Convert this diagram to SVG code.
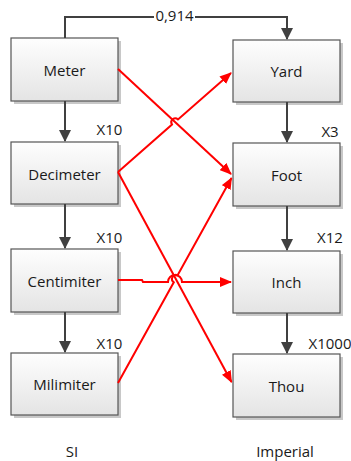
<svg xmlns="http://www.w3.org/2000/svg" width="351" height="461" viewBox="0 0 351 461">
  <style>
    .box { fill: url(#boxFill); stroke: #555555; stroke-width: 1.2; }
    .shadow { fill: #c8c8c8; }
    .label { font-family: "Open Sans", "Noto Sans", sans-serif; font-size: 15px; fill: #1a1a1a; text-anchor: middle; }
    .gray { fill: none; stroke: #404040; stroke-width: 2; }
    .red { fill: none; stroke: #ff0000; stroke-width: 2; }
  </style>
  <defs>
    <linearGradient id="boxFill" x1="0" y1="0" x2="0" y2="1">
      <stop offset="0" stop-color="#fefefe"/>
      <stop offset="1" stop-color="#e4e4e4"/>
    </linearGradient>
    <marker id="arrowGray" viewBox="0 0 12 12" refX="11" refY="6" markerWidth="12" markerHeight="12" markerUnits="userSpaceOnUse" orient="auto">
      <path d="M0,0 L12,6 L0,12 z" fill="#404040"/>
    </marker>
    <marker id="arrowRed" viewBox="0 0 12 10" refX="11" refY="5" markerWidth="12" markerHeight="10" markerUnits="userSpaceOnUse" orient="auto">
      <path d="M0,0 L12,5 L0,10 z" fill="#ff0000"/>
    </marker>
  </defs>

  <rect width="351" height="461" fill="#ffffff"/>

  <!-- SI units -->
  <g id="meter">
    <rect class="shadow" x="14" y="41" width="107" height="63"/>
    <rect class="box" x="11" y="38" width="107" height="63"/>
    <text class="label" x="64.5" y="76">Meter</text>
  </g>
  <g id="decimeter">
    <rect class="shadow" x="14" y="145" width="107" height="62"/>
    <rect class="box" x="11" y="142" width="107" height="62"/>
    <text class="label" x="64.5" y="180">Decimeter</text>
  </g>
  <g id="centimiter">
    <rect class="shadow" x="14" y="252" width="107" height="63"/>
    <rect class="box" x="11" y="249" width="107" height="63"/>
    <text class="label" x="64.5" y="287">Centimiter</text>
  </g>
  <g id="milimiter">
    <rect class="shadow" x="14" y="356" width="107" height="62"/>
    <rect class="box" x="11" y="353" width="107" height="62"/>
    <text class="label" x="64.5" y="390">Milimiter</text>
  </g>

  <!-- Imperial units -->
  <g id="yard">
    <rect class="shadow" x="236" y="43" width="107" height="62"/>
    <rect class="box" x="233" y="40" width="107" height="62"/>
    <text class="label" x="286.5" y="77">Yard</text>
  </g>
  <g id="foot">
    <rect class="shadow" x="236" y="146" width="107" height="63"/>
    <rect class="box" x="233" y="143" width="107" height="63"/>
    <text class="label" x="286.5" y="181">Foot</text>
  </g>
  <g id="inch">
    <rect class="shadow" x="236" y="254" width="107" height="62"/>
    <rect class="box" x="233" y="251" width="107" height="62"/>
    <text class="label" x="286.5" y="288">Inch</text>
  </g>
  <g id="thou">
    <rect class="shadow" x="236" y="357" width="107" height="63"/>
    <rect class="box" x="233" y="354" width="107" height="63"/>
    <text class="label" x="286.5" y="392">Thou</text>
  </g>

  <!-- Connectors -->
  <g id="connectors">
    <!-- Meter to Yard -->
    <path class="gray" d="M65,38 V17 H287 V39" marker-end="url(#arrowGray)"/>
    <rect x="154" y="9" width="41" height="16" fill="#ffffff"/>
    <text class="label" x="174.5" y="21">0,914</text>

    <!-- SI chain -->
    <path class="gray" d="M65,101 V141" marker-end="url(#arrowGray)"/>
    <path class="gray" d="M65,204 V248" marker-end="url(#arrowGray)"/>
    <path class="gray" d="M65,312 V352" marker-end="url(#arrowGray)"/>
    <text class="label" x="109.5" y="135">X10</text>
    <text class="label" x="109.5" y="243">X10</text>
    <text class="label" x="109.5" y="349">X10</text>

    <!-- Imperial chain -->
    <path class="gray" d="M287,102 V142" marker-end="url(#arrowGray)"/>
    <path class="gray" d="M287,206 V250" marker-end="url(#arrowGray)"/>
    <path class="gray" d="M287,313 V353" marker-end="url(#arrowGray)"/>
    <text class="label" x="330" y="137">X3</text>
    <text class="label" x="330" y="243">X12</text>
    <text class="label" x="330" y="349">X1000</text>

    <!-- Cross conversions -->
    <path class="red" d="M118,69 L231,174" marker-end="url(#arrowRed)"/>
    <path class="red" d="M118,172 L172,124.6 A4,4 0 0 1 178,119.4 L231,73" marker-end="url(#arrowRed)"/>
    <path class="red" d="M118,172 L231.5,382" marker-end="url(#arrowRed)"/>
    <path class="red" d="M118,280 H142 L143,282 H168 A7,7 0 0 1 182,282 H231" marker-end="url(#arrowRed)"/>
    <path class="red" d="M118,383 L173.8,282.3 A4,4 0 0 1 177.6,275.3 L231.5,178" marker-end="url(#arrowRed)"/>
  </g>

  <!-- Group captions -->
  <text class="label" x="72" y="457">SI</text>
  <text class="label" x="285" y="457">Imperial</text>
</svg>
